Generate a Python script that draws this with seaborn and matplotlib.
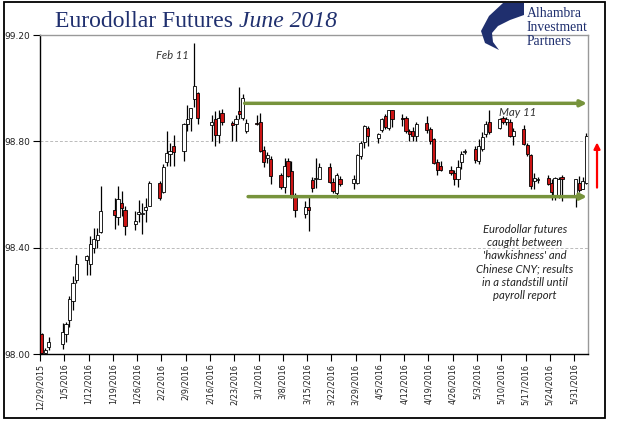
import numpy as np
import pandas as pd
import matplotlib
matplotlib.use("Agg")
import matplotlib.pyplot as plt
import matplotlib.dates as mdates
from matplotlib.patches import Rectangle, Polygon
import seaborn as sns

sns.set_theme(style="white")
plt.rcParams['font.family'] = ['DejaVu Sans']

# ---------------- data ----------------
dates = ["2015-12-29", "2015-12-30", "2015-12-31", "2016-01-04", "2016-01-05", "2016-01-06",
         "2016-01-07", "2016-01-08", "2016-01-11", "2016-01-12", "2016-01-13", "2016-01-14",
         "2016-01-15", "2016-01-19", "2016-01-20", "2016-01-21", "2016-01-22", "2016-01-25",
         "2016-01-26", "2016-01-27", "2016-01-28", "2016-01-29", "2016-02-01", "2016-02-02",
         "2016-02-03", "2016-02-04", "2016-02-05", "2016-02-08", "2016-02-09", "2016-02-10",
         "2016-02-11", "2016-02-12", "2016-02-16", "2016-02-17", "2016-02-18", "2016-02-19",
         "2016-02-22", "2016-02-23", "2016-02-24", "2016-02-25", "2016-02-26", "2016-02-29",
         "2016-03-01", "2016-03-02", "2016-03-03", "2016-03-04", "2016-03-07", "2016-03-08",
         "2016-03-09", "2016-03-10", "2016-03-11", "2016-03-14", "2016-03-15", "2016-03-16",
         "2016-03-17", "2016-03-18", "2016-03-21", "2016-03-22", "2016-03-23", "2016-03-24",
         "2016-03-28", "2016-03-29", "2016-03-30", "2016-03-31", "2016-04-01", "2016-04-04",
         "2016-04-05", "2016-04-06", "2016-04-07", "2016-04-08", "2016-04-11", "2016-04-12",
         "2016-04-13", "2016-04-14", "2016-04-15", "2016-04-18", "2016-04-19", "2016-04-20",
         "2016-04-21", "2016-04-22", "2016-04-25", "2016-04-26", "2016-04-27", "2016-04-28",
         "2016-04-29", "2016-05-02", "2016-05-03", "2016-05-04", "2016-05-05", "2016-05-06",
         "2016-05-09", "2016-05-10", "2016-05-11", "2016-05-12", "2016-05-13", "2016-05-16",
         "2016-05-17", "2016-05-18", "2016-05-19", "2016-05-20", "2016-05-23", "2016-05-24",
         "2016-05-25", "2016-05-26", "2016-05-27", "2016-05-31", "2016-06-01", "2016-06-02",
         "2016-06-03"]

opens = [98.075, 98.003, 98.025, 98.038, 98.075, 98.128, 98.201, 98.279, 98.355, 98.338, 98.399, 98.428,
         98.458, 98.540, 98.516, 98.569, 98.540, 98.489, 98.525, 98.528, 98.542, 98.558, 98.644, 98.610,
         98.723, 98.754, 98.782, 98.763, 98.867, 98.886, 98.961, 98.980, 98.860, 98.883, 98.823, 98.906,
         98.868, 98.867, 98.913, 98.886, 98.839, 98.868, 98.874, 98.766, 98.737, 98.732, 98.672, 98.628,
         98.725, 98.688, 98.594, 98.526, 98.552, 98.654, 98.659, 98.660, 98.705, 98.648, 98.604, 98.659,
         98.644, 98.644, 98.745, 98.797, 98.852, 98.814, 98.843, 98.895, 98.852, 98.917, 98.887, 98.886,
         98.839, 98.839, 98.820, 98.868, 98.845, 98.810, 98.722, 98.709, 98.694, 98.679, 98.657, 98.722,
         98.761, 98.770, 98.726, 98.772, 98.826, 98.871, 98.852, 98.889, 98.871, 98.874, 98.820, 98.845,
         98.785, 98.747, 98.650, 98.655, 98.663, 98.644, 98.596, 98.597, 98.665, 98.596, 98.644, 98.622,
         98.645]

highs = [98.080, 98.022, 98.065, 98.118, 98.122, 98.219, 98.292, 98.371, 98.374, 98.443, 98.474, 98.474,
         98.631, 98.588, 98.631, 98.613, 98.556, 98.537, 98.578, 98.569, 98.588, 98.650, 98.650, 98.713,
         98.839, 98.795, 98.823, 98.870, 98.936, 98.927, 99.169, 98.984, 98.900, 98.914, 98.917, 98.921,
         98.877, 98.900, 99.003, 98.977, 98.883, 98.900, 98.908, 98.782, 98.760, 98.745, 98.680, 98.738,
         98.738, 98.726, 98.606, 98.575, 98.600, 98.667, 98.738, 98.720, 98.720, 98.663, 98.682, 98.669,
         98.675, 98.751, 98.801, 98.860, 98.858, 98.833, 98.889, 98.902, 98.917, 98.917, 98.902, 98.895,
         98.845, 98.853, 98.874, 98.895, 98.853, 98.814, 98.732, 98.726, 98.709, 98.692, 98.728, 98.763,
         98.772, 98.782, 98.808, 98.835, 98.877, 98.918, 98.889, 98.895, 98.890, 98.883, 98.852, 98.860,
         98.795, 98.751, 98.682, 98.665, 98.675, 98.657, 98.667, 98.665, 98.672, 98.660, 98.668, 98.664,
         98.830]

lows = [97.990, 97.996, 98.015, 98.018, 98.045, 98.103, 98.166, 98.267, 98.298, 98.298, 98.380, 98.399,
        98.455, 98.472, 98.487, 98.518, 98.449, 98.465, 98.495, 98.453, 98.497, 98.556, 98.581, 98.606,
        98.707, 98.707, 98.707, 98.726, 98.839, 98.839, 98.931, 98.864, 98.800, 98.782, 98.792, 98.860,
        98.801, 98.801, 98.883, 98.880, 98.830, 98.860, 98.760, 98.705, 98.720, 98.638, 98.620, 98.606,
        98.665, 98.588, 98.516, 98.512, 98.462, 98.608, 98.625, 98.657, 98.645, 98.606, 98.588, 98.631,
        98.619, 98.638, 98.732, 98.776, 98.782, 98.792, 98.835, 98.845, 98.842, 98.853, 98.858, 98.830,
        98.801, 98.800, 98.801, 98.830, 98.789, 98.713, 98.672, 98.687, 98.672, 98.634, 98.630, 98.697,
        98.751, 98.720, 98.713, 98.762, 98.815, 98.826, 98.845, 98.864, 98.860, 98.815, 98.785, 98.785,
        98.745, 98.622, 98.619, 98.644, 98.634, 98.581, 98.581, 98.585, 98.575, 98.554, 98.610, 98.619,
        98.640]

closes = [98.002, 98.015, 98.046, 98.082, 98.112, 98.206, 98.267, 98.337, 98.370, 98.414, 98.433, 98.449,
          98.537, 98.523, 98.584, 98.550, 98.480, 98.502, 98.535, 98.531, 98.554, 98.642, 98.588, 98.705,
          98.755, 98.763, 98.760, 98.867, 98.883, 98.925, 99.009, 98.886, 98.871, 98.823, 98.886, 98.871,
          98.860, 98.883, 98.901, 98.962, 98.868, 98.865, 98.763, 98.722, 98.747, 98.669, 98.628, 98.709,
          98.669, 98.594, 98.543, 98.552, 98.540, 98.623, 98.663, 98.705, 98.648, 98.612, 98.672, 98.640,
          98.659, 98.747, 98.792, 98.858, 98.820, 98.826, 98.883, 98.855, 98.917, 98.883, 98.885, 98.837,
          98.829, 98.820, 98.864, 98.843, 98.801, 98.720, 98.691, 98.694, 98.679, 98.657, 98.705, 98.754,
          98.764, 98.729, 98.782, 98.816, 98.867, 98.835, 98.883, 98.871, 98.883, 98.820, 98.839, 98.789,
          98.751, 98.631, 98.663, 98.659, 98.640, 98.610, 98.663, 98.660, 98.657, 98.659, 98.616, 98.649,
          98.819]

tick_start = "2015-12-29"
tick_end = "2016-05-31"
x_start = "2015-12-29"
x_end = "2016-06-04"
y_ticks = [98.00, 98.40, 98.80, 99.20]
y_tick_labels = ["98.00", "98.40", "98.80", "99.20"]

channel_top = 98.943
channel_bottom = 98.592
channel_top_start = "2016-02-26"
channel_bottom_start = "2016-02-27"
jump_from = 98.626
jump_to = 98.796

title_main = "Eurodollar Futures "
title_italic = "June 2018"
note_feb = "Feb 11"
note_may = "May 11"
note_text = ("Eurodollar futures\ncaught between\n'hawkishness' and\n"
             "Chinese CNY; results\nin a standstill until\npayroll report")
logo_lines = ["Alhambra", "Investment", "Partners"]

# ---------------- figure ----------------
W, H = 628, 421
fig = plt.figure(figsize=(W / 100, H / 100), dpi=100)
fig.patch.set_facecolor("white")


def fx(px):
    return px / W


def fy(py):
    return 1 - py / H


ax = fig.add_axes([fx(40), fy(354), fx(588) - fx(40), fy(35) - fy(354)])
ax.set_facecolor("white")

df = pd.DataFrame({"date": pd.to_datetime(dates), "open": opens, "high": highs,
                   "low": lows, "close": closes})
df["x"] = mdates.date2num(df["date"] + pd.Timedelta(hours=12))
df["up"] = df["close"] >= df["open"]
df["bottom"] = df[["open", "close"]].min(axis=1)
df["height"] = (df["close"] - df["open"]).abs().clip(lower=0.0025)

RED = "#CC1414"
# wicks
ax.vlines(df["x"], df["low"], df["high"], color="black", lw=0.9, zorder=2)
# bodies
ax.bar(df["x"], df["height"], bottom=df["bottom"], width=0.92,
       color=np.where(df["up"], "white", RED), edgecolor="black", linewidth=0.6, zorder=3)

xl = mdates.date2num(pd.Timestamp(x_start))
xr = mdates.date2num(pd.Timestamp(x_end))
ax.set_xlim(xl, xr)
ax.set_ylim(y_ticks[0], y_ticks[-1])

ticks = pd.date_range(tick_start, tick_end, freq="7D")
ax.set_xticks(mdates.date2num(ticks))
ax.set_xticklabels([f"{d.month}/{d.day}/{d.year}" for d in ticks], rotation=90,
                   fontsize=5.8, color="#222222")
ax.set_yticks(y_ticks)
ax.set_yticklabels(y_tick_labels, fontsize=6.5, color="#222222")
ax.tick_params(axis="both", direction="out", length=5, width=0.8, color="black", pad=2,
               bottom=True, left=True)
ax.tick_params(axis="x", pad=2)

ax.yaxis.grid(True, linestyle=(0, (3, 2)), color="#BBBBBB", lw=0.7)
ax.xaxis.grid(False)
ax.set_axisbelow(True)
for s in ["left", "bottom"]:
    ax.spines[s].set_color("black")
    ax.spines[s].set_linewidth(1.0)
for s in ["top", "right"]:
    ax.spines[s].set_color("#999999")
    ax.spines[s].set_linewidth(1.0)

GREEN = "#77933C"
for val, start in [(channel_top, channel_top_start), (channel_bottom, channel_bottom_start)]:
    ax.annotate("", xy=(xr - 0.3, val), xytext=(mdates.date2num(pd.Timestamp(start)), val),
                arrowprops=dict(arrowstyle="-|>", color=GREEN, lw=2.5, mutation_scale=9,
                                shrinkA=0, shrinkB=0), zorder=4)

ax.annotate("", xy=(xr + 2.6, jump_to), xytext=(xr + 2.6, jump_from),
            arrowprops=dict(arrowstyle="-|>", color="#FF0000", lw=1.6, mutation_scale=9,
                            shrinkA=0, shrinkB=0), annotation_clip=False, zorder=5)

ax.text(0.241, 0.937, note_feb, transform=ax.transAxes, ha="center", va="center",
        fontsize=8, style="italic", family="Lato", color="#333333")
ax.text(0.872, 0.757, note_may, transform=ax.transAxes, ha="center", va="center",
        fontsize=8.3, style="italic", family="Lato", color="#333333")
ax.text(0.885, 0.2875, note_text, transform=ax.transAxes, ha="center", va="center",
        fontsize=8.1, style="italic", family="Lato", color="#222222", linespacing=1.25)

# title
NAVY = "#1F2F6E"
t1 = fig.text(fx(55), fy(27), title_main, fontsize=17, family="Liberation Serif",
              color=NAVY, va="baseline", ha="left")
fig.canvas.draw()
bb = t1.get_window_extent(renderer=fig.canvas.get_renderer())
fig.text(bb.x1 / (fig.dpi * fig.get_figwidth()), fy(27), title_italic, fontsize=17,
         family="Liberation Serif", style="italic", color=NAVY, va="baseline", ha="left")

# logo
logo_pts = [(524, 3), (503, 3), (489, 16), (481, 31), (485, 43), (499, 50), (493, 42),
            (492, 33), (498, 26), (510, 20), (524, 15)]
fig.patches.append(Polygon([(fx(x), fy(y)) for x, y in logo_pts], closed=True,
                           transform=fig.transFigure, facecolor=NAVY, edgecolor="none"))
for i, line in enumerate(logo_lines):
    fig.text(fx(527), fy(17 + 14 * i), line, fontsize=9.8, family="Liberation Serif",
             color=NAVY, va="baseline", ha="left")

# outer frame
fig.patches.append(Rectangle((fx(4), fy(418)), fx(605) - fx(4), fy(2) - fy(418),
                             transform=fig.transFigure, fill=False, edgecolor="black", lw=1.3))

fig.savefig("out.png", dpi=100)
